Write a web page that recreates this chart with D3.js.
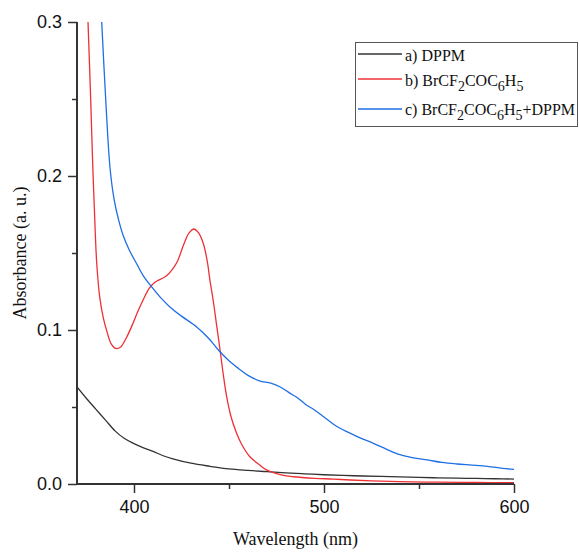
<!DOCTYPE html>
<html><head><meta charset="utf-8">
<script src="https://cdn.jsdelivr.net/npm/d3@7"></script>
<style>
html,body{margin:0;padding:0;background:#fff;}
svg{display:block;}
</style>
</head><body>
<script>
// ---- data ----
const dppmWl  = [370,375,380,385,390,395,400,405,410,415,420,430,440,450,460,470,480,490,500,510,520,530,540,550,560,570,580,590,600];
const dppmAbs = [0.063,0.0555,0.0485,0.0415,0.0345,0.0295,0.0262,0.0235,0.0212,0.0185,0.0165,0.0135,0.0115,0.0098,0.0088,0.008,0.0072,0.0066,0.006,0.0056,0.0052,0.0049,0.0046,0.0043,0.004,0.0038,0.0036,0.0034,0.0032];

const brWl  = [375.8,377.2,378.2,379.1,380.4,382,384,386,388,390.5,393,396,399,402,405,408,411,414,417,420,423,426,429,431.5,434,436.5,438.5,440,441.7,443.5,445.3,447,448.8,451,454,457,461,466,470,478,484,495,505,514,525,540,560,580,600];
const brAbs = [0.30,0.25,0.21,0.18,0.143,0.121,0.107,0.098,0.091,0.088,0.089,0.095,0.103,0.112,0.120,0.127,0.131,0.133,0.135,0.139,0.145,0.155,0.163,0.1656,0.163,0.156,0.145,0.132,0.119,0.103,0.087,0.071,0.0565,0.044,0.033,0.025,0.0177,0.0125,0.009,0.0058,0.0047,0.0037,0.0032,0.0026,0.002,0.0015,0.0012,0.001,0.0009];

const mixWl  = [383,385.1,387.4,389.5,392,394.4,397.5,401.4,405,409.3,414,418.9,425,433,439,444.4,450,455,460,466,472,477,482,486,490,495,500,506,512,519,526,533,540,547,554.5,562,570,578,586,594,600];
const mixAbs = [0.30,0.25,0.205,0.185,0.171,0.161,0.152,0.143,0.135,0.128,0.121,0.115,0.109,0.102,0.095,0.087,0.080,0.075,0.0705,0.067,0.0655,0.063,0.059,0.056,0.052,0.048,0.0435,0.038,0.034,0.030,0.0264,0.0225,0.019,0.017,0.0156,0.014,0.013,0.0123,0.0115,0.0102,0.0095];

const xMajor = [400,500,600];
const xMinor = [450,550];
const yMajor = [0.0,0.1,0.2,0.3];
const yMinor = [0.05,0.15,0.25];

const seriesNames = ["a) DPPM","b) BrCF2COC6H5","c) BrCF2COC6H5+DPPM"];
const seriesColors = ["#333333","#ee3035","#1f6fe5"];

// ---- layout ----
const W = 580, H = 552;
const m = {left:77, top:22, right:514, bottom:484};
const svg = d3.select("body").append("svg").attr("width",W).attr("height",H);

const x = d3.scaleLinear().domain([370,600]).range([m.left,m.right]);
const y = d3.scaleLinear().domain([0,0.3]).range([m.bottom,m.top]);

svg.append("clipPath").attr("id","clip").append("rect")
  .attr("x",m.left).attr("y",m.top-1).attr("width",m.right-m.left+1).attr("height",m.bottom-m.top+1);

const series = [
  {wl:dppmWl, a:dppmAbs},
  {wl:brWl, a:brAbs},
  {wl:mixWl, a:mixAbs}
];
const line = d3.line().x(d=>x(d[0])).y(d=>y(d[1])).curve(d3.curveCatmullRom.alpha(0.5));
const g = svg.append("g").attr("clip-path","url(#clip)");
series.forEach((s,i)=>{
  g.append("path").datum(s.wl.map((w,j)=>[w,s.a[j]]))
    .attr("d",line).attr("fill","none").attr("stroke",seriesColors[i]).attr("stroke-width",1.3);
});

// ---- axes ----
const axCol = "#333";
const xAx = svg.append("g").attr("transform",`translate(0,${m.bottom})`)
  .call(d3.axisBottom(x).tickValues(xMajor).tickSize(9).tickPadding(7).tickFormat(d3.format("d")));
svg.append("g").attr("transform",`translate(0,${m.bottom})`)
  .call(d3.axisBottom(x).tickValues(xMinor).tickSize(5).tickFormat(""))
  .select(".domain").remove();
const yAx = svg.append("g").attr("transform",`translate(${m.left},0)`)
  .call(d3.axisLeft(y).tickValues(yMajor).tickSize(9).tickPadding(6).tickFormat(d3.format(".1f")));
svg.append("g").attr("transform",`translate(${m.left},0)`)
  .call(d3.axisLeft(y).tickValues(yMinor).tickSize(5).tickFormat(""))
  .select(".domain").remove();

xAx.select(".domain").attr("d",`M${m.left},0H${m.right}`);
yAx.select(".domain").attr("d",`M0,${m.bottom}V${m.top}`);
svg.selectAll(".domain").attr("stroke",axCol).attr("stroke-width",2);
svg.selectAll(".tick line").attr("stroke",axCol).attr("stroke-width",1.5);
svg.selectAll(".tick text").attr("font-family","'Liberation Sans', Arial, sans-serif").attr("font-size",18).attr("fill","#111");

// ---- titles ----
svg.append("text").attr("x",(m.left+m.right)/2).attr("y",545).attr("text-anchor","middle")
  .attr("font-family","'Liberation Serif','Times New Roman',serif").attr("font-size",18).attr("fill","#111")
  .text("Wavelength (nm)");
svg.append("text").attr("transform",`translate(26,${(m.top+m.bottom)/2}) rotate(-90)`).attr("text-anchor","middle")
  .attr("font-family","'Liberation Serif','Times New Roman',serif").attr("font-size",18).attr("fill","#111")
  .text("Absorbance (a. u.)");

// ---- legend ----
const lg = svg.append("g");
lg.append("rect").attr("x",355.5).attr("y",42.5).attr("width",222).attr("height",84)
  .attr("fill","#fff").attr("stroke","#555").attr("stroke-width",1);
const rowsLine = [54,79,109];
const rowsBase = [60.7,86,115];
function addLabel(t, str){
  const parts = str.match(/([^\d]+|\d)/g);
  let lowered = false;
  parts.forEach(p=>{
    if(/^\d$/.test(p)){
      t.append("tspan").attr("font-size",14).attr("dy",lowered?0:5).text(p);
      lowered = true;
    } else {
      t.append("tspan").attr("dy",lowered?-5:0).text(p);
      lowered = false;
    }
  });
}
seriesNames.forEach((n,i)=>{
  lg.append("line").attr("x1",358).attr("x2",402).attr("y1",rowsLine[i]).attr("y2",rowsLine[i])
    .attr("stroke",seriesColors[i]).attr("stroke-width",1.3);
  const t = lg.append("text").attr("x",405).attr("y",rowsBase[i])
    .attr("font-family","'Liberation Serif','Times New Roman',serif").attr("font-size",16).attr("fill","#111");
  addLabel(t,n);
});
</script>
</body></html>
